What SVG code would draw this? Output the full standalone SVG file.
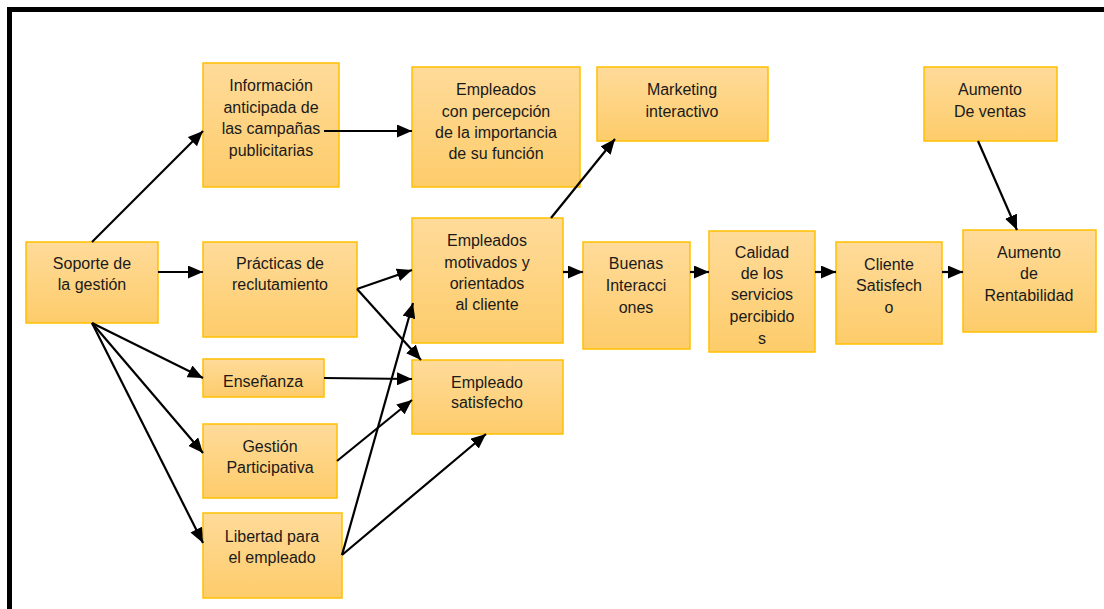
<svg xmlns="http://www.w3.org/2000/svg" width="1104" height="609" viewBox="0 0 1104 609">
  <style>
    .box { fill: url(#gold); stroke: #FFC000; stroke-width: 1.5; }
    .lbl { font-family: "Liberation Sans", Arial, sans-serif; font-size: 16px; fill: #1a1a1a; text-anchor: middle; }
    .con { stroke: #000; stroke-width: 2.2; fill: none; marker-end: url(#arr); }
  </style>
  <defs>
    <linearGradient id="gold" x1="0" y1="0" x2="0" y2="1">
      <stop offset="0" stop-color="#FFDB9A"/>
      <stop offset="1" stop-color="#FDCC6A"/>
    </linearGradient>
    <marker id="arr" viewBox="0 0 15 13" refX="15" refY="6.5" markerUnits="userSpaceOnUse" markerWidth="15" markerHeight="13" orient="auto">
      <path d="M0,0 L15,6.5 L0,13 z" fill="#000"/>
    </marker>
  </defs>
  <rect x="0" y="0" width="1104" height="609" fill="#fff"/>
  <rect x="9.5" y="9.5" width="1110" height="620" fill="none" stroke="#000" stroke-width="5"/>

  <g id="n-informacion">
    <rect class="box" x="203" y="63" width="136" height="124"/>
    <text class="lbl"><tspan x="271" y="91">Información</tspan><tspan x="271" y="113">anticipada de</tspan><tspan x="271" y="134">las campañas</tspan><tspan x="271" y="156">publicitarias</tspan></text>
  </g>
  <g id="n-percepcion">
    <rect class="box" x="412" y="67" width="168" height="120"/>
    <text class="lbl"><tspan x="496" y="95">Empleados</tspan><tspan x="496" y="117">con percepción</tspan><tspan x="496" y="138">de la importancia</tspan><tspan x="496" y="159">de su función</tspan></text>
  </g>
  <g id="n-marketing">
    <rect class="box" x="597" y="67" width="171" height="74"/>
    <text class="lbl"><tspan x="682" y="95">Marketing</tspan><tspan x="682" y="117">interactivo</tspan></text>
  </g>
  <g id="n-ventas">
    <rect class="box" x="924" y="67" width="133" height="74"/>
    <text class="lbl"><tspan x="990" y="95">Aumento</tspan><tspan x="990" y="117">De ventas</tspan></text>
  </g>
  <g id="n-soporte">
    <rect class="box" x="26" y="242" width="132" height="81"/>
    <text class="lbl"><tspan x="92" y="269">Soporte de</tspan><tspan x="92" y="290">la gestión</tspan></text>
  </g>
  <g id="n-practicas">
    <rect class="box" x="203" y="242" width="154" height="95"/>
    <text class="lbl"><tspan x="280" y="269">Prácticas de</tspan><tspan x="280" y="290">reclutamiento</tspan></text>
  </g>
  <g id="n-ensenanza">
    <rect class="box" x="203" y="359" width="121" height="38"/>
    <text class="lbl"><tspan x="263" y="387">Enseñanza</tspan></text>
  </g>
  <g id="n-gestion">
    <rect class="box" x="203" y="424" width="134" height="74"/>
    <text class="lbl"><tspan x="270" y="452">Gestión</tspan><tspan x="270" y="473">Participativa</tspan></text>
  </g>
  <g id="n-libertad">
    <rect class="box" x="203" y="513" width="139" height="85"/>
    <text class="lbl"><tspan x="272" y="542">Libertad para</tspan><tspan x="272" y="563">el empleado</tspan></text>
  </g>
  <g id="n-motivados">
    <rect class="box" x="412" y="218" width="151" height="125"/>
    <text class="lbl"><tspan x="487" y="246">Empleados</tspan><tspan x="487" y="268">motivados y</tspan><tspan x="487" y="289">orientados</tspan><tspan x="487" y="310">al cliente</tspan></text>
  </g>
  <g id="n-satisfecho">
    <rect class="box" x="412" y="360" width="151" height="74"/>
    <text class="lbl"><tspan x="487" y="388">Empleado</tspan><tspan x="487" y="408">satisfecho</tspan></text>
  </g>
  <g id="n-buenas">
    <rect class="box" x="583" y="242" width="107" height="107"/>
    <text class="lbl"><tspan x="636" y="269">Buenas</tspan><tspan x="636" y="291">Interacci</tspan><tspan x="636" y="313">ones</tspan></text>
  </g>
  <g id="n-calidad">
    <rect class="box" x="709" y="231" width="106" height="121"/>
    <text class="lbl"><tspan x="762" y="258">Calidad</tspan><tspan x="762" y="279">de los</tspan><tspan x="762" y="300">servicios</tspan><tspan x="762" y="322">percibido</tspan><tspan x="762" y="344">s</tspan></text>
  </g>
  <g id="n-cliente">
    <rect class="box" x="836" y="242" width="106" height="102"/>
    <text class="lbl"><tspan x="889" y="270">Cliente</tspan><tspan x="889" y="291">Satisfech</tspan><tspan x="889" y="313">o</tspan></text>
  </g>
  <g id="n-rentabilidad">
    <rect class="box" x="963" y="230" width="133" height="102"/>
    <text class="lbl"><tspan x="1029" y="258">Aumento</tspan><tspan x="1029" y="279">de</tspan><tspan x="1029" y="301">Rentabilidad</tspan></text>
  </g>

  <g id="connectors">
    <path class="con" d="M92,242 L203,131"/>
    <path class="con" d="M324,131 L412,131"/>
    <path class="con" d="M158,272 L203,272"/>
    <path class="con" d="M92,323 L203,378"/>
    <path class="con" d="M92,323 L203,453"/>
    <path class="con" d="M92,323 L203,543"/>
    <path class="con" d="M357,289 L412,270"/>
    <path class="con" d="M357,289 L421,360"/>
    <path class="con" d="M324,378 L412,379"/>
    <path class="con" d="M337,461 L412,400"/>
    <path class="con" d="M342,555 L413,303"/>
    <path class="con" d="M342,555 L486,434"/>
    <path class="con" d="M551,218 L615,139"/>
    <path class="con" d="M563,272 L583,272"/>
    <path class="con" d="M690,272 L709,272"/>
    <path class="con" d="M815,272 L836,272"/>
    <path class="con" d="M942,272 L963,272"/>
    <path class="con" d="M978,141 L1017,230"/>
  </g>
</svg>
